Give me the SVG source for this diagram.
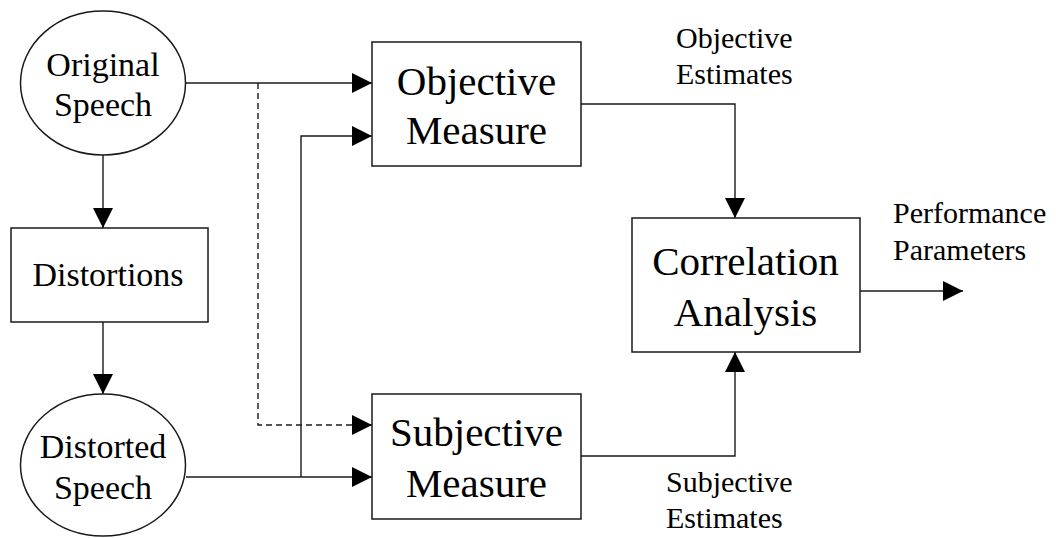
<svg xmlns="http://www.w3.org/2000/svg" width="1056" height="538" viewBox="0 0 1056 538">
<style>
  .shape { fill: #ffffff; stroke: #1a1a1a; stroke-width: 1.5; }
  .line { fill: none; stroke: #1a1a1a; stroke-width: 1.4; }
  .dash { stroke-dasharray: 6 4; }
  .t34 { font-size: 34px; text-anchor: middle; }
  .t41 { font-size: 41px; text-anchor: middle; }
  .t30 { font-size: 30px; text-anchor: start; }
</style>
<defs>
  <marker id="arrow" markerUnits="userSpaceOnUse" markerWidth="20" markerHeight="20" refX="20" refY="10" orient="auto">
    <path d="M0,0 L20,10 L0,20 z" fill="#000"/>
  </marker>
</defs>
<rect x="0" y="0" width="1056" height="538" fill="#ffffff"/>

<g id="connectors">
  <path class="line" d="M186,83 H372" marker-end="url(#arrow)"/>
  <path class="line" d="M103,155 V228" marker-end="url(#arrow)"/>
  <path class="line" d="M103,322 V394" marker-end="url(#arrow)"/>
  <path class="line" d="M186,477 H372" marker-end="url(#arrow)"/>
  <path class="line" d="M301,477 V136 H372" marker-end="url(#arrow)"/>
  <path class="line dash" d="M258,83 V425 H372" marker-end="url(#arrow)"/>
  <path class="line" d="M581,104 H735 V218" marker-end="url(#arrow)"/>
  <path class="line" d="M581,456 H735 V352" marker-end="url(#arrow)"/>
  <path class="line" d="M860,291 H963" marker-end="url(#arrow)"/>
</g>

<g font-family="Liberation Serif, DejaVu Serif, serif" fill="#000">
<g id="original-speech">
  <ellipse class="shape" cx="103" cy="83" rx="82.5" ry="72"/>
  <text class="t34" x="103" y="76">Original</text>
  <text class="t34" x="103" y="116">Speech</text>
</g>

<g id="distortions">
  <rect class="shape" x="11" y="228" width="197" height="94"/>
  <text class="t34" x="108" y="286">Distortions</text>
</g>

<g id="distorted-speech">
  <ellipse class="shape" cx="103" cy="465" rx="82.5" ry="71"/>
  <text class="t34" x="103" y="458">Distorted</text>
  <text class="t34" x="103" y="499">Speech</text>
</g>

<g id="objective-measure">
  <rect class="shape" x="372" y="42" width="209" height="124"/>
  <text class="t41" x="476.5" y="95">Objective</text>
  <text class="t41" x="476.5" y="144">Measure</text>
</g>

<g id="subjective-measure">
  <rect class="shape" x="372" y="394" width="209" height="125"/>
  <text class="t41" x="476.5" y="446">Subjective</text>
  <text class="t41" x="476.5" y="497">Measure</text>
</g>

<g id="correlation-analysis">
  <rect class="shape" x="632" y="218" width="228" height="134"/>
  <text class="t41" x="745.5" y="275">Correlation</text>
  <text class="t41" x="745.5" y="326">Analysis</text>
</g>

<g id="labels">
  <text class="t30" x="676" y="48">Objective</text>
  <text class="t30" x="676" y="84">Estimates</text>
  <text class="t30" x="666" y="492">Subjective</text>
  <text class="t30" x="666" y="528">Estimates</text>
  <text class="t30" x="893" y="223">Performance</text>
  <text class="t30" x="893" y="260">Parameters</text>
</g>
</g>
</svg>
